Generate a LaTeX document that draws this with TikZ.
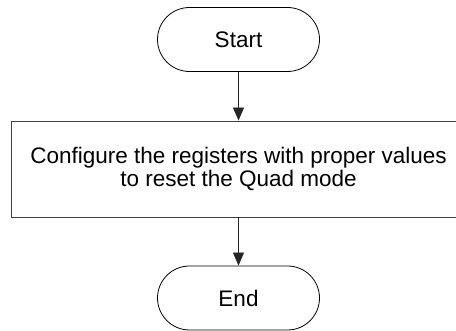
\documentclass[tikz,border=0pt]{standalone}
\usepackage{fontspec}
\setmainfont{Liberation Sans}
\usetikzlibrary{arrows.meta}
\begin{document}
\begin{tikzpicture}[x=1pt,y=-1pt,
  terminal/.style={draw=black, line width=0.8pt, rounded corners=32pt,
    minimum width=162pt, minimum height=64pt, inner sep=0pt, font=\fontsize{22.5}{23.5}\selectfont},
  process/.style={draw=black!75, line width=0.9pt, minimum width=455pt, minimum height=96pt,
    inner sep=0pt, align=center, font=\fontsize{22.5}{23.5}\selectfont},
  flow/.style={draw=black!85, line width=0.8pt, -{Triangle[width=11pt,length=13pt]}}]
  \useasboundingbox[clip] (0,0) rectangle (456,331);
  \node[terminal] (start) at (238.5,39.5) {Start};
  \node[process] (conf) at (238.5,169) {Configure the registers with proper values\\to reset the Quad mode};
  \node[terminal] (end) at (238.5,298) {End};
  \draw[flow] (start) -- (conf);
  \draw[flow] (conf) -- (end);
\end{tikzpicture}
\end{document}
